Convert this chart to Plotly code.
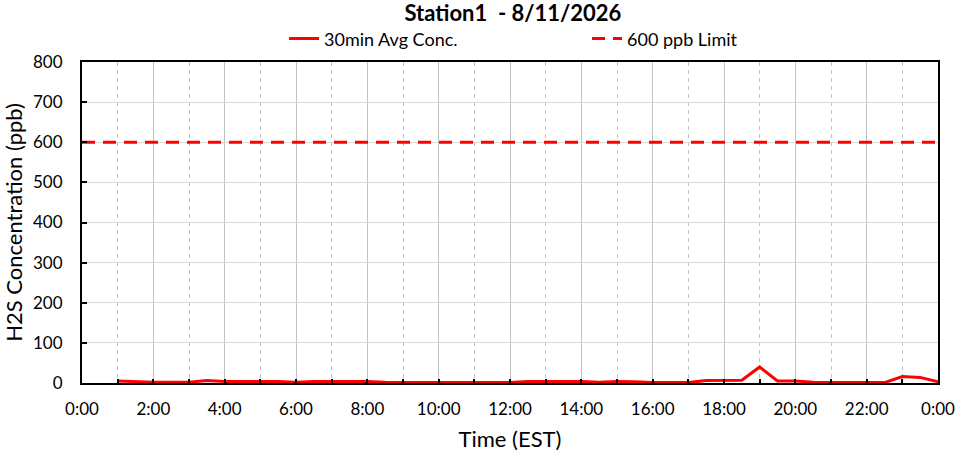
import plotly.graph_objects as go

# 30-minute average times (hours after midnight) and concentrations (ppb)
hours = [1 + 0.5 * i for i in range(47)]
conc = [5, 3, 2, 2, 2, 6, 4, 4, 4, 4,
        2, 4, 4, 4, 4, 2, 1, 1, 1, 1,
        1, 1, 1, 4, 4, 4, 4, 2, 4, 3,
        1, 1, 1, 6, 7, 7, 40, 5, 5, 2,
        1, 1, 1, 1, 16, 14, 3]
limit_x = [0, 24]
limit_y = [600, 600]

tick_hours = list(range(0, 25, 2))
tick_labels = [f"{h % 24}:00" for h in tick_hours]
minor_hours = list(range(1, 24, 2))
y_ticks = list(range(0, 801, 100))

FONT = "Lato"

fig = go.Figure()
fig.add_trace(go.Scatter(x=hours, y=conc, mode="lines", name="30min Avg Conc.",
                         line=dict(color="#ff0000", width=3)))
fig.add_trace(go.Scatter(x=limit_x, y=limit_y, mode="lines", name="600 ppb Limit",
                         line=dict(color="#ff0000", width=3, dash="13px,8px")))

fig.update_layout(
    width=957, height=452,
    margin=dict(l=82, r=19, t=62, b=69, autoexpand=False),
    paper_bgcolor="white", plot_bgcolor="white",
    font=dict(family=FONT, color="black", size=17),
    title=dict(text="<b>Station1  - 8/11/2026</b>", x=0.536, xanchor="center",
               y=0.971, yanchor="middle", font=dict(size=22, family=FONT)),
    legend=dict(orientation="h", x=0.59, xanchor="center", y=1.072, yanchor="middle",
                font=dict(size=18), entrywidth=258, entrywidthmode="pixels",
                bgcolor="rgba(0,0,0,0)"),
    showlegend=True,
)

fig.update_xaxes(
    range=[0, 24], tickmode="array", tickvals=tick_hours, ticktext=tick_labels,
    showline=True, linecolor="black", linewidth=2, mirror=True,
    ticks="inside", ticklen=4, tickcolor="black", tickwidth=2,
    showgrid=True, gridcolor="#c0c0c0", gridwidth=1,
    minor=dict(tickmode="array", tickvals=minor_hours, showgrid=True,
               gridcolor="#c0c0c0", griddash="4px,4px", ticks="inside",
               ticklen=4, tickcolor="black", tickwidth=2),
    zeroline=False, automargin=False, ticklabelstandoff=10,
    title=dict(text="Time (EST)", font=dict(size=22), standoff=14),
    tickfont=dict(size=17),
)
fig.update_yaxes(
    range=[0, 800], tickmode="array", tickvals=y_ticks,
    showline=True, linecolor="black", linewidth=2, mirror=True,
    ticks="inside", ticklen=5, tickcolor="black", tickwidth=2,
    showgrid=True, gridcolor="#d9d9d9", gridwidth=1,
    zeroline=False, automargin=False, ticklabelstandoff=14,
    title=dict(text="H2S Concentration (ppb)", font=dict(size=22), standoff=18),
    tickfont=dict(size=17),
)

fig.write_html("out.html", config={"displayModeBar": False},
               post_script="document.body.style.margin='0px';")
